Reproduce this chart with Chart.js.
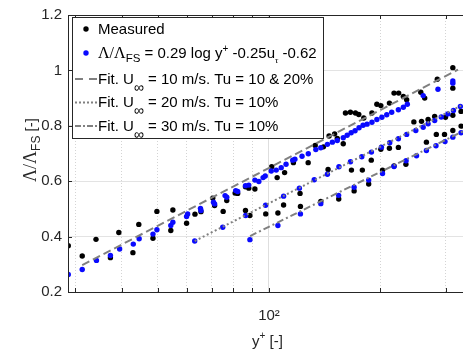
<!DOCTYPE html>
<html>
<head>
<meta charset="utf-8">
<script src="https://cdn.jsdelivr.net/npm/chart.js@4.4.1/dist/chart.umd.min.js"></script>
<style>
  html, body { margin: 0; padding: 0; background: #fff; }
  #wrap { width: 467px; height: 358px; }
</style>
</head>
<body>
<div id="wrap"><canvas id="chart"></canvas></div>
<script>
// Datos (y+ en escala log, Lambda/Lambda_FS)
const measuredX = [28.7, 31.3, 34.1, 37.3, 39.3, 42.9, 44.5, 48.6, 49.8, 54.3, 55.0, 59.9, 63.1, 65.5, 70.5, 71.3, 75.2, 76.9, 81.0, 82.3,
  86.4, 86.4, 88.8, 88.2, 91.6, 98.0, 101.7, 105.2, 105.7, 109.5, 110.2, 116.4, 121.3, 121.6, 127.6, 133.3, 138.0, 140.3, 144.4, 145.3,
  150.4, 152.9, 154.3, 158.7, 160.9, 165.9, 167.0, 169.8, 171.2, 174.8, 178.7, 180.3, 185.9, 188.9, 189.7, 195.6, 200.5, 200.5, 202.6, 211.5,
  211.5, 217.6, 217.6, 223.6, 224.0, 230.6, 234.3, 235.4, 246.2, 257.0, 258.2, 263.4, 266.2, 269.0, 280.2, 283.1, 284.8, 297.9, 299.7, 313.7,
  313.7, 313.7, 313.7, 330.2, 330.2];
const measuredY = [0.367, 0.330, 0.390, 0.324, 0.415, 0.342, 0.444, 0.394, 0.491, 0.422, 0.496, 0.448, 0.481, 0.490, 0.539, 0.512, 0.491, 0.530, 0.557, 0.556,
  0.580, 0.494, 0.476, 0.575, 0.572, 0.482, 0.652, 0.613, 0.485, 0.514, 0.631, 0.667, 0.556, 0.509, 0.667, 0.729, 0.527, 0.724, 0.642, 0.763,
  0.771, 0.754, 0.536, 0.735, 0.846, 0.849, 0.640, 0.565, 0.846, 0.841, 0.640, 0.828, 0.590, 0.676, 0.846, 0.878, 0.873, 0.715, 0.640, 0.882,
  0.719, 0.918, 0.655, 0.722, 0.918, 0.906, 0.661, 0.894, 0.814, 0.921, 0.816, 0.900, 0.741, 0.823, 0.834, 0.769, 0.968, 0.769, 0.831, 1.010,
  0.936, 0.838, 0.783, 0.852, 0.799];

const modelX = [28.7, 31.3, 34.2, 37.3, 39.5, 43.0, 44.6, 48.6, 49.8, 54.3, 55.0, 59.9, 60.3, 63.0, 65.3, 65.5, 70.8, 71.3, 75.0, 76.1,
  76.9, 81.3, 82.3, 86.4, 86.5, 88.2, 88.8, 91.6, 93.9, 96.4, 97.7, 97.9, 101.4, 104.6, 105.7, 107.9, 109.5, 111.2, 115.9, 117.5,
  120.8, 121.6, 122.8, 127.7, 132.5, 133.8, 138.0, 138.0, 143.8, 143.8, 148.3, 152.9, 154.2, 154.5, 158.7, 162.6, 166.0, 166.7, 169.8, 170.8,
  175.1, 178.1, 179.5, 184.0, 185.9, 189.1, 189.7, 195.6, 201.2, 201.8, 202.6, 208.0, 211.9, 214.5, 217.6, 223.6, 223.6, 230.6, 234.6, 235.4,
  236.4, 249.2, 250.3, 260.9, 260.9, 266.2, 269.0, 280.2, 282.5, 286.0, 291.9, 298.8, 304.2, 313.7, 313.7, 313.7, 314.9, 328.8, 330.2];
const modelY = [0.263, 0.281, 0.314, 0.332, 0.355, 0.373, 0.392, 0.409, 0.425, 0.440, 0.452, 0.473, 0.482, 0.384, 0.502, 0.494, 0.524, 0.518, 0.434, 0.548,
  0.542, 0.566, 0.563, 0.584, 0.476, 0.586, 0.389, 0.604, 0.599, 0.613, 0.619, 0.513, 0.637, 0.640, 0.440, 0.649, 0.546, 0.661, 0.676, 0.679,
  0.575, 0.482, 0.690, 0.699, 0.605, 0.714, 0.721, 0.519, 0.733, 0.625, 0.741, 0.747, 0.549, 0.652, 0.757, 0.766, 0.670, 0.775, 0.578, 0.782,
  0.793, 0.688, 0.802, 0.806, 0.604, 0.705, 0.813, 0.823, 0.723, 0.831, 0.628, 0.840, 0.739, 0.849, 0.653, 0.858, 0.753, 0.867, 0.674, 0.769,
  0.878, 0.783, 0.692, 0.795, 0.909, 0.711, 0.807, 0.819, 0.728, 0.932, 0.832, 0.743, 0.843, 0.759, 0.962, 0.954, 0.855, 0.870, 0.775];

// Ajustes (rectas en log y+)
const fit10X = [31.3, 324];
const fit10Y = [0.297, 1.003];
const fit20X = [63.0, 334];
const fit20Y = [0.384, 0.876];
const fit30X = [88.9, 334];
const fit30Y = [0.402, 0.780];

const xTicks = [30, 40, 50, 60, 70, 80, 90, 100, 200, 300];
const yTicks = [0.2, 0.4, 0.6, 0.8, 1.0, 1.2];

const SANS = "'Liberation Sans', Arial, Helvetica, sans-serif";
const SERIF = "'Liberation Serif', 'Times New Roman', serif";
const axisColor = '#262626';
const fitColor = '#808080';

function pts(xs, ys) {
  return xs.map(function (x, i) { return { x: x, y: ys[i] }; });
}

// Dibuja texto con sub/superindices, devuelve la x final
function rich(ctx, x, y, parts) {
  parts.forEach(function (p) {
    ctx.font = p.f;
    ctx.fillText(p.t, x, y + (p.dy || 0));
    x += ctx.measureText(p.t).width;
  });
  return x;
}

const decor = {
  id: 'decor',
  afterDraw: function (chart) {
    const ctx = chart.ctx;
    const a = chart.chartArea;
    const xs = chart.scales.x;
    const ys = chart.scales.y;
    ctx.save();

    // Ejes: izquierda, arriba, abajo
    ctx.strokeStyle = axisColor;
    ctx.lineWidth = 1;
    ctx.beginPath();
    ctx.moveTo(a.right, a.top + 0.5);
    ctx.lineTo(a.left + 0.5, a.top + 0.5);
    ctx.lineTo(a.left + 0.5, a.bottom + 0.5);
    ctx.lineTo(a.right, a.bottom + 0.5);
    // marcas hacia dentro
    xTicks.forEach(function (v) {
      const px = Math.round(xs.getPixelForValue(v)) + 0.5;
      ctx.moveTo(px, a.bottom);
      ctx.lineTo(px, a.bottom - 4);
      ctx.moveTo(px, a.top);
      ctx.lineTo(px, a.top + 4);
    });
    yTicks.forEach(function (v) {
      const py = Math.round(ys.getPixelForValue(v)) + 0.5;
      ctx.moveTo(a.left, py);
      ctx.lineTo(a.left + 4, py);
    });
    ctx.stroke();

    // Leyenda
    const lx = 72, ly = 17, lw = 251, lh = 121;
    ctx.fillStyle = '#fff';
    ctx.fillRect(lx, ly, lw, lh);
    ctx.strokeStyle = axisColor;
    ctx.strokeRect(lx + 0.5, ly + 0.5, lw, lh);

    ctx.fillStyle = '#000';
    ctx.beginPath(); ctx.arc(86, 29, 2.7, 0, Math.PI * 2); ctx.fill();
    ctx.fillStyle = '#0a0aff';
    ctx.beginPath(); ctx.arc(86, 53, 2.7, 0, Math.PI * 2); ctx.fill();

    const samples = [[8, 6], [2, 2], [6, 2, 2, 2]];
    const sy = [79, 102.5, 126];
    ctx.strokeStyle = fitColor;
    ctx.lineWidth = 2;
    samples.forEach(function (d, i) {
      ctx.setLineDash(d);
      ctx.beginPath();
      ctx.moveTo(75, sy[i]);
      ctx.lineTo(97, sy[i]);
      ctx.stroke();
    });
    ctx.setLineDash([]);

    ctx.fillStyle = '#000';
    ctx.textBaseline = 'alphabetic';
    ctx.textAlign = 'left';
    const f15 = '15px ' + SANS;
    rich(ctx, 98, 34, [{ t: 'Measured', f: f15 }]);
    rich(ctx, 98, 58, [
      { t: '\u039B/\u039B', f: '16px ' + SERIF },
      { t: 'FS', f: '11.5px ' + SANS, dy: 4 },
      { t: ' = 0.29 log y', f: f15 },
      { t: '+', f: '10px ' + SANS, dy: -6 },
      { t: ' -0.25u', f: f15 },
      { t: '\u03C4', f: 'italic 9px ' + SERIF, dy: 5 },
      { t: ' -0.62', f: f15 }
    ]);
    const fits = [' = 10 m/s. Tu = 10 & 20%', ' = 20 m/s. Tu = 10%', ' = 30 m/s. Tu = 10%'];
    const fy = [83.5, 107, 130.5];
    fits.forEach(function (t, i) {
      rich(ctx, 98, fy[i], [
        { t: 'Fit. U', f: f15 },
        { t: '\u221E', f: '14px ' + SANS, dy: 8 },
        { t: t, f: f15 }
      ]);
    });

    // Titulos de ejes
    ctx.fillStyle = axisColor;
    rich(ctx, 252, 346, [
      { t: 'y', f: '15px ' + SANS },
      { t: '+', f: '10px ' + SANS, dy: -7 },
      { t: ' [-]', f: '15px ' + SANS }
    ]);
    ctx.translate(36, 182);
    ctx.rotate(-Math.PI / 2);
    rich(ctx, 0, 0, [
      { t: '\u039B/\u039B', f: '18px ' + SERIF },
      { t: 'FS', f: '12px ' + SANS, dy: 4 },
      { t: ' [-]', f: '15px ' + SANS }
    ]);
    ctx.restore();
  }
};

const ctx = document.getElementById('chart').getContext('2d');
const chart = new Chart(ctx, {
  type: 'scatter',
  data: {
    datasets: [
      { label: 'Fit. U = 10 m/s', data: pts(fit10X, fit10Y), showLine: true, borderColor: fitColor, borderWidth: 2,
        borderDash: [8, 4], pointRadius: 0, order: 0 },
      { label: 'Fit. U = 20 m/s', data: pts(fit20X, fit20Y), showLine: true, borderColor: fitColor, borderWidth: 2,
        borderDash: [2, 2.5], pointRadius: 0, order: 0 },
      { label: 'Fit. U = 30 m/s', data: pts(fit30X, fit30Y), showLine: true, borderColor: fitColor, borderWidth: 2,
        borderDash: [7, 3, 2, 3], pointRadius: 0, order: 0 },
      { label: 'Model', data: pts(modelX, modelY), backgroundColor: '#0a0aff', borderWidth: 0, pointRadius: 2.7, order: 1 },
      { label: 'Measured', data: pts(measuredX, measuredY), backgroundColor: '#000', borderWidth: 0, pointRadius: 2.7, order: 2 }
    ]
  },
  options: {
    responsive: true,
    maintainAspectRatio: false,
    animation: false,
    devicePixelRatio: 1,
    layout: { padding: { top: 13, right: 0, left: 0, bottom: 0 } },
    plugins: { legend: { display: false }, tooltip: { enabled: false } },
    scales: {
      x: {
        type: 'logarithmic',
        min: 28.65,
        max: 334.2,
        afterBuildTicks: function (s) { s.ticks = xTicks.map(function (v) { return { value: v }; }); },
        afterFit: function (s) { s.height = 66; },
        ticks: {
          autoSkip: false,
          maxRotation: 0,
          padding: 15,
          color: axisColor,
          font: { family: SANS, size: 15 },
          callback: function (v) { return v === 100 ? '10\u00B2' : ''; }
        },
        grid: {
          drawTicks: false,
          color: function (c) { return c.tick && c.tick.value === 100 ? '#dedede' : '#d4d4d4'; }
        },
        border: {
          display: false,
          dash: function (c) { return c.tick && c.tick.value === 100 ? [] : [1, 2]; }
        }
      },
      y: {
        min: 0.2,
        max: 1.2,
        afterBuildTicks: function (s) { s.ticks = yTicks.map(function (v) { return { value: v }; }); },
        afterFit: function (s) { s.width = 68; },
        ticks: {
          padding: 6,
          color: axisColor,
          font: { family: SANS, size: 15 },
          callback: function (v) { return Math.abs(v - 1) < 1e-9 ? '1' : v.toFixed(1); }
        },
        grid: { drawTicks: false, color: '#e3e3e3' },
        border: { display: false }
      }
    }
  },
  plugins: [decor]
});
</script>
</body>
</html>
